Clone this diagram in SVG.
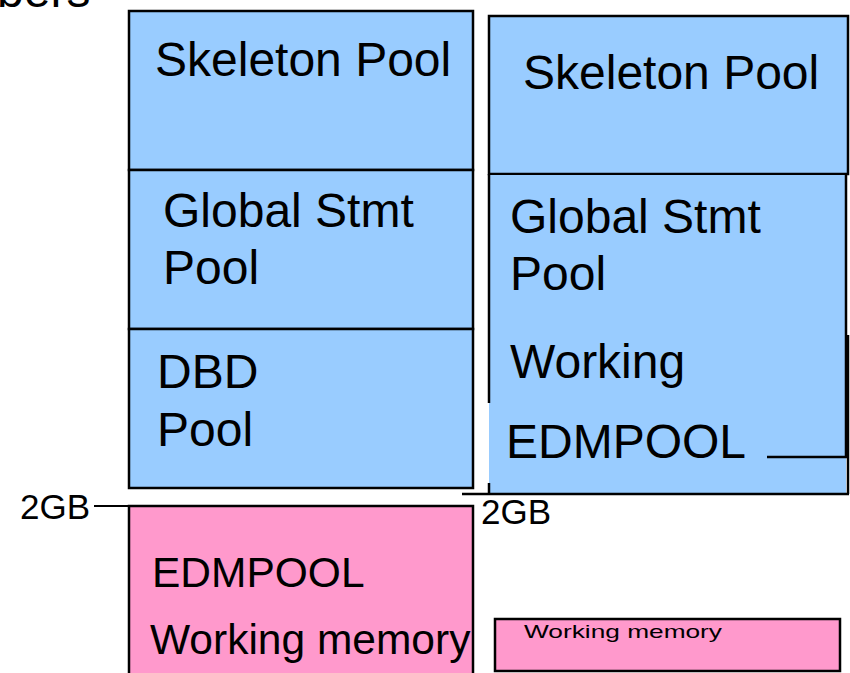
<svg xmlns="http://www.w3.org/2000/svg" width="850" height="673" viewBox="0 0 850 673">
<style>
.blue{fill:#99CCFF;stroke:#000;stroke-width:2.5}
.pink{fill:#FF99CC;stroke:#000;stroke-width:2.5}
.fill-blue{fill:#99CCFF;stroke:none}
.ln{stroke:#000;stroke-width:2.5;fill:none}
.ln2{stroke:#000;stroke-width:2;fill:none}
text{font-family:"Liberation Sans",Arial,Helvetica,sans-serif;fill:#000}
.big{font-size:48px}
.mid{font-size:42.5px}
.lbl{font-size:35px}
.sm{font-size:19px}
</style>
<rect width="850" height="673" fill="#fff"/>
<text class="big" x="-3" y="7">bers</text>

<g id="left-skeleton">
<rect class="blue" x="129" y="11" width="344" height="159"/>
<text class="big" x="155" y="76">Skeleton Pool</text>
</g>
<g id="left-global">
<rect class="blue" x="129" y="170" width="344" height="159"/>
<text class="big" x="163" y="227">Global Stmt</text>
<text class="big" x="163" y="284">Pool</text>
</g>
<g id="left-dbd">
<rect class="blue" x="129" y="329" width="344" height="159"/>
<text class="big" x="157" y="388">DBD</text>
<text class="big" x="157" y="446">Pool</text>
</g>
<g id="left-pink">
<rect class="pink" x="129" y="506" width="344" height="200"/>
<text class="mid" x="152" y="587">EDMPOOL</text>
<text class="mid" x="150" y="654">Working memory</text>
</g>

<g id="right-skeleton">
<rect class="blue" x="489" y="16" width="359" height="158"/>
<text class="big" x="523" y="89">Skeleton Pool</text>
</g>
<g id="right-global">
<rect class="fill-blue" x="489" y="175" width="357" height="318"/>
<line class="ln" x1="489" y1="174" x2="489" y2="403"/>
<line class="ln" x1="846" y1="174" x2="846" y2="457"/>
<line class="ln" x1="848" y1="335" x2="848" y2="494"/>
<line class="ln" x1="489" y1="483" x2="489" y2="494"/>
<line class="ln" x1="767" y1="457" x2="847" y2="457"/>
<line class="ln" x1="462" y1="494" x2="849" y2="494"/>
<text class="big" x="510" y="233">Global Stmt</text>
<text class="big" x="510" y="290">Pool</text>
<text class="big" x="510" y="378">Working</text>
<text class="big" x="506" y="458">EDMPOOL</text>
</g>
<g id="right-pink">
<rect class="pink" x="495" y="619" width="345" height="52"/>
<text class="sm" x="524" y="638" textLength="198" lengthAdjust="spacingAndGlyphs">Working memory</text>
</g>

<g id="connectors">
<line class="ln2" x1="94" y1="506" x2="129" y2="506"/>
<text class="lbl" x="20" y="519">2GB</text>
<text class="lbl" x="481" y="524">2GB</text>
</g>
</svg>
